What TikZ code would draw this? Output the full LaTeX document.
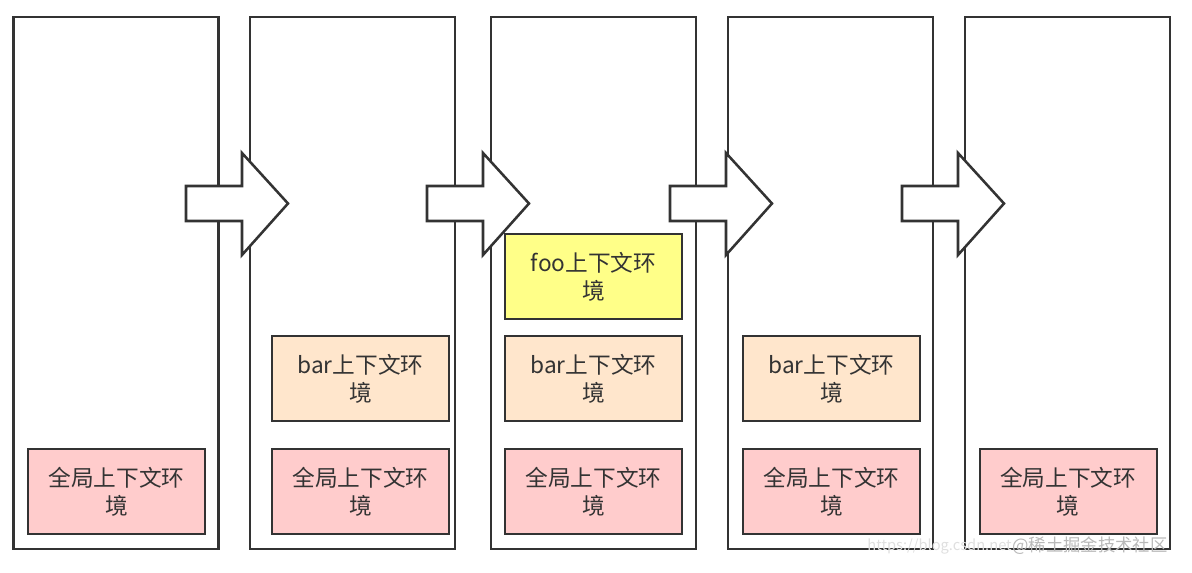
\documentclass[tikz,border=0pt]{standalone}
\usepackage{fontspec}
\setmainfont{Noto Sans CJK SC}
\usepackage{xcolor}
\definecolor{edge}{HTML}{333333}
\definecolor{globfill}{HTML}{FFCCCC}
\definecolor{barfill}{HTML}{FFE6CC}
\definecolor{foofill}{HTML}{FFFF88}

\begin{document}
\begin{tikzpicture}[
  x=0.75pt, y=-0.75pt,
  stack/.style={draw=edge, line width=1.9pt, minimum width=153.75pt,
                minimum height=399pt, inner sep=0pt},
  ctx/.style={draw=edge, line width=1.5pt, minimum width=132.75pt,
              minimum height=63.75pt, inner sep=0pt, text=edge,
              font=\fontsize{17}{21}\selectfont, align=center},
  glob/.style={ctx, fill=globfill},
  barctx/.style={ctx, fill=barfill},
  fooctx/.style={ctx, fill=foofill},
  flow/.style={draw=edge, line width=1.9pt, fill=white, line join=miter},
]
\useasboundingbox (0,0) rectangle (1192,573);

% call stack columns
\node[stack] (col1) at (116,283)    {};
\node[stack] (col2) at (352.5,283)  {};
\node[stack] (col3) at (593.5,283)  {};
\node[stack] (col4) at (830.5,283)  {};
\node[stack] (col5) at (1067.5,283) {};

% block arrows between the columns
\foreach \tail/\name in {186/go1, 427/go2, 670/go3, 902/go4} {
  \coordinate (\name) at (\tail,203.5);
  \draw[flow] (\name) ++(0,-17.5) -- ++(56,0) -- ++(0,-33) -- ++(46,50.5)
              -- ++(-46,51.5) -- ++(0,-34) -- ++(-56,0) -- cycle;
}

% execution contexts
\node[glob]   (glob1) at (116.5,491.5) {全局上下文环\\境};

\node[barctx] (bar2)  at (360.5,378.5) {bar上下文环\\境};
\node[glob]   (glob2) at (360.5,491.5) {全局上下文环\\境};

\node[fooctx] (foo3)  at (593.5,276.5) {foo上下文环\\境};
\node[barctx] (bar3)  at (593.5,378.5) {bar上下文环\\境};
\node[glob]   (glob3) at (593.5,491.5) {全局上下文环\\境};

\node[barctx] (bar4)  at (831.5,378.5) {bar上下文环\\境};
\node[glob]   (glob4) at (831.5,491.5) {全局上下文环\\境};

\node[glob]   (glob5) at (1068,491.5)  {全局上下文环\\境};

% watermark
\node[anchor=east, text=gray!25, font=\fontsize{11}{13}\selectfont, inner sep=0pt]
  (url) at (1012,546) {https://blog.csdn.net};
\node[anchor=west, text=gray!55, font=\fontsize{13}{15}\selectfont, inner sep=0pt]
  (mark) at (url.east) {@稀土掘金技术社区};
\end{tikzpicture}
\end{document}
